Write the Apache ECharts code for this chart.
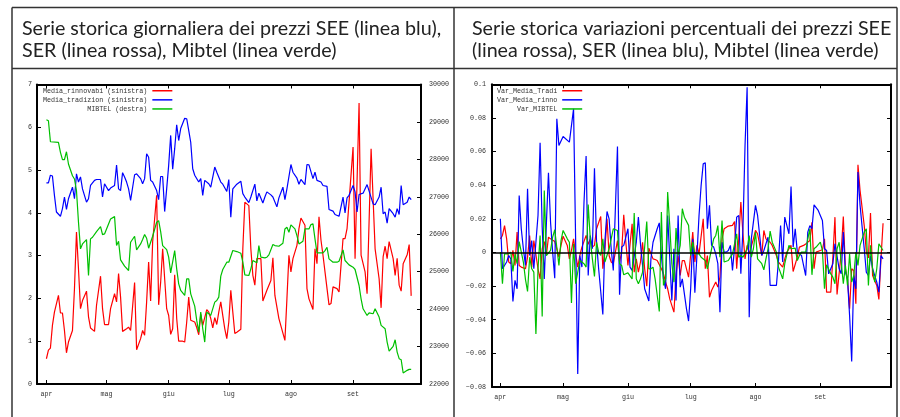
<!DOCTYPE html>
<html><head><meta charset="utf-8">
<script src="https://cdn.jsdelivr.net/npm/echarts@6/dist/echarts.min.js"></script>
<style>html,body{margin:0;padding:0;background:#fff}#c{width:900px;height:417px}</style>
</head><body><div id="c"></div>
<script>
// ---- DATA ----
const monthTicks = [0, 30, 61, 91, 122, 153];           // day offsets from 1 April
const monthLabels = ['apr', 'mag', 'giu', 'lug', 'ago', 'set'];
const leftYTicks = [0, 7, 1];         // min, max, step (sinistra)
const rightYTicks = [22000, 30000, 1000]; // min, max, step (destra)
const varYTicks = [-0.08, 0.1, 0.02];

const titleLeft = 'Serie storica giornaliera dei prezzi SEE (linea blu),\nSER (linea rossa), Mibtel (linea verde)';
const titleRight = 'Serie storica variazioni percentuali dei prezzi SEE\n(linea rossa), SER (linea blu), Mibtel (linea verde)';
const namesLeft = ['Media_rinnovabi (sinistra)', 'Media_tradizion (sinistra)', 'MIBTEL (destra)'];
const namesRight = ['Var_Media_Tradi', 'Var_Media_rinno', 'Var_MIBTEL'];

const mediaRinnovabi = [[0,0.59],[1,0.79],[2,0.84],[3,1.37],[4,1.68],[6,2.07],[7,1.66],[8,1.66],[9,1.25],[10,0.73],[11,0.98],[13,1.25],[14,2.23],[15,3.55],[16,2.69],[17,1.76],[18,1.95],[20,2.17],[21,1.57],[22,1.31],[24,1.23],[25,1.84],[27,2.52],[28,1.76],[29,1.39],[31,1.39],[32,1.76],[34,2.11],[35,1.92],[36,2.58],[37,2.03],[38,1.23],[40,1.29],[41,1.33],[42,1.25],[44,2.37],[45,0.80],[47,1.06],[48,1.25],[49,1.14],[50,1.92],[51,2.85],[52,1.94],[53,3.32],[55,4.41],[56,1.85],[57,2.38],[58,3.16],[60,1.76],[61,1.60],[62,1.16],[63,1.29],[64,2.55],[65,1.53],[66,1.00],[68,1.00],[69,0.98],[70,1.45],[71,2.03],[72,1.49],[74,1.45],[75,1.32],[76,1.15],[77,1.63],[78,1.37],[80,1.74],[81,1.68],[82,1.53],[83,1.31],[84,1.55],[85,1.39],[86,1.68],[87,1.92],[88,1.60],[89,1.29],[90,1.06],[91,1.45],[92,2.19],[93,1.68],[94,1.18],[95,1.21],[97,1.28],[98,3.16],[99,4.25],[101,4.17],[102,3.16],[103,2.54],[104,2.31],[105,2.93],[107,2.93],[108,1.94],[110,2.19],[112,2.42],[113,2.95],[114,2.07],[116,1.53],[119,1.02],[120,1.99],[121,3.01],[122,2.62],[123,2.93],[125,3.24],[126,3.63],[127,3.88],[129,3.71],[130,2.23],[131,1.99],[133,1.74],[134,3.16],[135,2.81],[136,3.91],[137,3.36],[138,3.01],[139,2.62],[141,1.85],[142,1.88],[143,2.27],[145,2.23],[146,2.15],[148,3.40],[149,3.40],[150,3.63],[151,4.25],[153,5.54],[154,2.93],[156,6.57],[157,3.01],[159,2.62],[160,2.11],[162,5.50],[164,3.16],[166,2.46],[167,1.78],[168,2.97],[169,3.22],[170,2.93],[171,3.33],[173,2.93],[174,2.54],[175,2.94],[176,2.31],[177,2.17],[178,2.81],[180,3.02],[181,3.26],[182,2.06]];

const mediaTradizion = [[0,4.70],[1,4.70],[2,4.88],[3,4.86],[4,4.41],[5,4.02],[7,3.92],[8,4.10],[9,4.37],[10,4.08],[11,4.33],[13,4.60],[14,4.33],[15,4.91],[16,4.72],[17,4.84],[18,4.56],[20,4.25],[21,4.33],[22,4.64],[24,4.76],[25,4.78],[27,4.78],[28,4.37],[29,4.68],[31,4.52],[32,4.58],[34,4.64],[35,5.12],[36,4.56],[37,4.52],[38,4.94],[39,4.84],[40,4.72],[41,4.56],[42,4.29],[44,4.89],[45,4.91],[47,4.80],[48,4.68],[49,4.80],[50,5.38],[51,5.30],[52,4.76],[53,4.72],[55,4.52],[56,4.31],[57,4.85],[58,4.85],[59,4.03],[60,4.56],[61,5.11],[62,5.81],[63,5.02],[64,5.50],[65,6.06],[66,5.69],[67,5.97],[69,6.21],[70,6.20],[71,5.93],[72,5.65],[73,5.03],[74,4.88],[76,4.72],[77,4.80],[78,4.41],[79,4.76],[81,4.68],[82,4.60],[84,5.07],[85,4.95],[87,4.72],[88,4.67],[90,4.50],[91,4.78],[92,3.90],[93,4.56],[95,4.67],[97,4.74],[98,4.45],[99,4.37],[101,4.24],[102,4.37],[104,4.67],[105,4.28],[106,4.46],[108,4.23],[109,4.37],[110,4.49],[112,4.42],[113,4.37],[115,4.14],[116,4.35],[118,4.60],[119,4.31],[120,4.56],[122,5.13],[123,4.95],[125,4.81],[126,4.67],[127,4.78],[129,4.66],[130,5.13],[131,5.12],[133,4.80],[134,4.95],[135,4.76],[137,4.72],[138,4.64],[140,4.62],[141,4.08],[143,4.04],[144,3.96],[146,3.92],[148,4.37],[149,4.00],[150,4.35],[151,4.41],[153,4.64],[154,4.49],[155,4.02],[156,4.43],[158,4.46],[160,4.66],[163,4.21],[164,4.19],[166,4.37],[167,4.60],[168,3.98],[169,4.02],[170,3.76],[171,4.10],[173,3.98],[174,3.90],[175,4.10],[176,3.96],[177,4.64],[178,4.19],[180,4.25],[181,4.37],[182,4.31]];

const mibtel = [[0,29058],[1,29031],[2,28471],[6,28453],[7,28187],[8,27991],[9,27991],[10,28204],[11,27876],[13,27564],[14,27476],[15,27164],[16,26320],[17,25609],[18,25742],[20,25858],[21,24898],[22,25876],[23,25920],[25,26071],[27,26204],[28,25991],[29,26009],[31,26276],[32,26409],[34,26471],[35,25698],[36,25813],[37,25316],[39,25147],[41,25031],[42,25787],[44,25947],[45,25582],[47,25742],[48,25858],[49,25991],[50,25893],[51,25627],[52,25787],[53,25947],[55,26320],[56,26364],[57,26071],[58,25698],[60,25591],[61,25387],[62,24969],[64,25565],[65,25076],[66,24676],[67,24498],[69,24364],[70,24809],[71,24809],[72,24409],[74,24080],[75,23698],[76,23387],[77,23920],[78,23476],[79,23120],[80,23920],[81,23876],[82,23831],[84,24187],[85,24231],[86,24320],[87,24880],[88,25058],[90,25253],[91,25253],[93,25565],[95,25538],[97,25493],[98,25253],[99,24916],[101,24898],[102,25076],[103,25298],[105,25236],[106,25698],[107,25387],[109,25369],[110,25387],[111,25449],[113,25724],[114,25698],[116,25680],[118,25760],[119,26142],[120,26187],[121,26053],[122,26249],[124,26142],[125,25964],[126,25742],[128,25813],[129,26142],[130,26142],[131,26142],[132,26258],[133,26276],[134,25876],[135,25502],[137,25502],[138,25502],[139,25564],[140,25653],[141,25342],[143,25253],[145,25253],[146,25280],[148,25582],[149,25298],[151,25182],[153,25120],[154,25058],[156,24631],[157,24276],[158,24009],[160,23831],[161,23902],[163,23876],[164,24009],[166,23787],[167,23565],[169,23476],[170,23120],[171,22880],[173,23004],[174,23182],[175,22853],[176,22676],[177,22650],[178,22293],[180,22364],[181,22391],[182,22391]];

const varMediaTradi = [[0,0.0081],[1,0.0101],[2,0.0160],[3,0.0081],[4,-0.0057],[5,-0.0067],[6,0.0012],[7,-0.0077],[8,0.0121],[9,-0.0077],[10,-0.0087],[12,-0.0097],[13,-0.0028],[14,0.0101],[15,-0.0087],[16,0.0071],[18,-0.0097],[19,-0.0157],[20,0.0022],[21,0.0065],[22,-0.0018],[23,0.0091],[24,0.0081],[26,0.0065],[27,0.0022],[28,-0.0028],[29,0.0042],[30,0.0097],[32,0.0042],[33,-0.0038],[34,0.0012],[35,0.0081],[36,-0.0008],[37,-0.0087],[38,-0.0018],[39,0.0032],[41,0.0101],[42,0.0048],[43,0.0081],[44,0.0032],[45,0.0042],[46,0.0141],[48,0.0214],[49,-0.0097],[50,0.0022],[51,0.0200],[52,-0.0018],[53,-0.0057],[54,-0.0067],[56,0.0071],[57,-0.0057],[58,0.0002],[59,0.0224],[60,0.0061],[61,-0.0077],[63,0.0170],[64,-0.0117],[65,-0.0038],[66,-0.0117],[67,-0.0057],[68,0.0061],[69,-0.0097],[70,-0.0200],[71,0.0026],[73,-0.0038],[74,-0.0042],[75,-0.0048],[77,-0.0097],[78,-0.0127],[79,-0.0176],[80,-0.0216],[81,-0.0276],[83,-0.0355],[84,-0.0137],[85,-0.0018],[86,-0.0137],[87,-0.0048],[88,-0.0048],[90,-0.0147],[92,0.0121],[93,-0.0057],[94,0.0042],[95,-0.0008],[97,0.0200],[98,-0.0097],[99,-0.0018],[100,-0.0266],[101,-0.0226],[103,-0.0176],[104,-0.0206],[105,-0.0147],[106,0.0081],[107,0.0141],[109,0.0157],[111,0.0161],[112,0.0184],[113,-0.0097],[114,0.0081],[115,0.0300],[116,0.0111],[117,-0.0038],[118,0.0042],[119,-0.0008],[121,0.0081],[122,0.0131],[123,0.0111],[125,-0.0018],[126,0.0131],[127,0.0081],[129,0.0061],[130,0.0042],[131,0.0012],[132,-0.0018],[133,-0.0057],[135,-0.0087],[136,-0.0038],[137,0.0002],[139,0.0042],[140,-0.0113],[142,-0.0028],[143,0.0032],[145,0.0042],[146,0.0051],[148,0.0071],[149,0.0180],[150,-0.0097],[151,0.0002],[153,0.0012],[154,0.0016],[155,0.0081],[156,-0.0236],[158,-0.0236],[159,-0.0028],[160,0.0210],[161,-0.0250],[163,0.0002],[164,0.0214],[165,-0.0097],[166,-0.0157],[167,-0.0335],[168,-0.0097],[169,-0.0107],[170,-0.0305],[171,0.0521],[172,0.0369],[174,0.0160],[175,0.0002],[176,-0.0032],[177,0.0234],[178,-0.0137],[180,-0.0196],[181,-0.0279],[182,-0.0038],[183,0.0174]];

const varMediaRinno = [[0,0.0200],[1,-0.0097],[3,-0.0057],[4,-0.0018],[5,-0.0038],[6,-0.0291],[7,-0.0166],[8,-0.0216],[9,0.0339],[10,0.0141],[11,0.0022],[12,-0.0077],[13,0.0379],[14,-0.0018],[15,0.0071],[16,-0.0097],[18,0.0220],[19,0.0652],[20,0.0151],[21,-0.0157],[22,0.0170],[23,0.0474],[24,0.0180],[25,0.0002],[26,-0.0153],[27,0.0795],[28,0.0636],[30,0.0690],[33,0.0656],[35,0.0854],[37,-0.0722],[38,-0.0018],[39,-0.0087],[40,0.0300],[41,0.0573],[42,-0.0137],[43,0.0101],[44,0.0022],[45,0.0501],[46,0.0061],[47,-0.0097],[49,-0.0369],[50,0.0071],[51,0.0244],[52,0.0200],[53,0.0022],[54,-0.0107],[56,0.0630],[57,-0.0252],[58,0.0032],[59,0.0042],[60,0.0091],[61,0.0141],[62,-0.0087],[63,-0.0107],[65,0.0061],[66,0.0210],[67,0.0051],[68,-0.0077],[69,-0.0216],[71,-0.0289],[72,-0.0038],[73,0.0061],[75,0.0141],[76,0.0176],[77,-0.0018],[78,-0.0157],[79,-0.0216],[80,0.0220],[82,-0.0285],[83,0.0022],[84,-0.0285],[85,0.0220],[86,-0.0206],[87,-0.0157],[89,-0.0335],[90,-0.0408],[91,-0.0216],[92,0.0081],[93,-0.0240],[94,-0.0018],[95,0.0220],[96,0.0398],[97,0.0527],[98,0.0533],[99,0.0141],[100,0.0280],[101,0.0042],[102,0.0032],[103,-0.0008],[104,-0.0067],[105,-0.0355],[106,0.0061],[107,0.0002],[108,0.0002],[109,0.0012],[110,0.0042],[111,-0.0107],[112,0.0032],[113,0.0210],[114,0.0220],[115,-0.0127],[116,0.0141],[117,0.0636],[118,0.0983],[119,-0.0385],[120,0.0081],[122,0.0280],[123,0.0220],[125,-0.0018],[126,0.0012],[128,0.0091],[129,-0.0196],[132,-0.0196],[133,-0.0048],[134,0.0160],[135,-0.0057],[136,0.0210],[138,0.0111],[139,0.0392],[140,0.0032],[141,0.0141],[142,0.0002],[144,-0.0018],[146,-0.0137],[147,0.0121],[148,0.0160],[149,0.0141],[150,0.0283],[152,0.0250],[154,0.0190],[155,0.0022],[156,0.0012],[157,-0.0127],[159,-0.0067],[160,0.0052],[162,-0.0097],[163,-0.0127],[164,0.0121],[165,-0.0117],[166,-0.0157],[167,-0.0375],[168,-0.0648],[169,-0.0137],[170,-0.0216],[171,0.0478],[172,0.0281],[174,0.0022],[175,-0.0117],[176,-0.0137],[177,-0.0018],[178,-0.0097],[179,-0.0137],[180,-0.0176],[181,-0.0236],[182,-0.0018],[183,-0.0038]];

const varMibtel = [[0,0.0002],[1,-0.0186],[2,-0.0008],[4,-0.0008],[5,0.0002],[6,-0.0113],[7,-0.0008],[8,-0.0067],[9,0.0065],[11,-0.0057],[12,-0.0160],[13,-0.0232],[14,-0.0028],[15,-0.0097],[16,-0.0117],[17,-0.0484],[18,-0.0097],[19,0.0101],[20,-0.0380],[21,0.0369],[22,-0.0018],[24,0.0012],[25,0.0091],[26,0.0135],[28,-0.0077],[29,0.0071],[30,0.0131],[32,0.0081],[33,0.0061],[34,-0.0301],[35,0.0052],[36,-0.0186],[38,-0.0048],[40,-0.0067],[41,-0.0087],[42,0.0285],[43,0.0081],[44,-0.0038],[45,-0.0143],[46,0.0061],[47,0.0002],[48,-0.0018],[49,0.0081],[50,-0.0057],[52,0.0022],[53,0.0081],[54,0.0141],[56,0.0131],[57,-0.0067],[58,-0.0077],[59,-0.0133],[60,-0.0127],[61,-0.0121],[63,-0.0157],[64,0.0234],[65,-0.0157],[66,-0.0186],[67,-0.0157],[68,-0.0117],[70,0.0184],[71,-0.0097],[72,-0.0097],[73,-0.0087],[74,-0.0157],[76,-0.0351],[77,0.0240],[78,-0.0196],[79,-0.0157],[80,0.0359],[81,0.0160],[82,-0.0067],[83,-0.0176],[84,0.0145],[85,-0.0018],[86,0.0042],[87,0.0260],[88,0.0210],[90,0.0161],[91,-0.0018],[92,0.0061],[93,-0.0008],[95,-0.0008],[96,-0.0028],[98,-0.0048],[99,-0.0097],[101,0.0022],[102,0.0081],[103,0.0101],[104,0.0160],[105,-0.0028],[106,0.0190],[107,-0.0057],[109,-0.0048],[110,-0.0028],[111,-0.0008],[113,0.0111],[114,-0.0028],[115,-0.0018],[116,-0.0028],[118,0.0022],[119,0.0101],[120,-0.0028],[121,0.0022],[122,0.0121],[123,-0.0038],[125,-0.0067],[126,-0.0103],[127,-0.0038],[128,0.0022],[129,0.0127],[130,0.0061],[132,0.0002],[133,-0.0087],[135,-0.0157],[136,-0.0067],[138,0.0042],[139,0.0022],[141,0.0026],[142,-0.0048],[143,-0.0018],[144,0.0002],[146,0.0002],[147,0.0081],[148,0.0141],[149,-0.0133],[150,0.0022],[151,0.0032],[153,0.0061],[154,0.0012],[155,-0.0216],[156,-0.0073],[158,-0.0127],[159,-0.0147],[160,-0.0186],[161,0.0022],[162,0.0061],[163,-0.0057],[164,-0.0186],[165,-0.0077],[166,-0.0196],[167,-0.0008],[168,-0.0176],[169,-0.0137],[170,0.0002],[171,-0.0077],[172,0.0042],[174,0.0121],[175,0.0141],[176,-0.0196],[177,0.0042],[178,-0.0097],[179,-0.0176],[180,-0.0097],[181,0.0052],[183,0.0012]];

// ---- CHART ----
const mono = 'Liberation Mono';
const RED = '#ff0000', BLUE = '#0000ff', GREEN = '#00c000';
const tickLabel = { fontFamily: mono, fontSize: 6.7, color: '#333' };
const borderLine = { onZero: false, lineStyle: { color: '#000', width: 2 } };
const tick = (vals) => ({ inside: true, length: 4, lineStyle: { color: '#000', width: 1 }, ...(vals ? { customValues: vals } : {}) });
const monthFmt = (v) => { const i = monthTicks.indexOf(Math.round(v)); return i >= 0 ? monthLabels[i] : ''; };
const varFmt = (v) => { const r = Math.round(v * 100) / 100; if (r === 0) return '0'; return (r < 0 ? '\u2212' : '') + String(Math.abs(r)); };

function xPair(grid, min, max) {
  return [
    { type: 'value', gridIndex: grid, min, max, position: 'bottom', axisLine: borderLine, axisTick: tick(monthTicks),
      axisLabel: { customValues: monthTicks, formatter: monthFmt, margin: 7, ...tickLabel }, splitLine: { show: false } },
    { type: 'value', gridIndex: grid, min, max, position: 'top', axisLine: borderLine, axisTick: tick(monthTicks),
      axisLabel: { show: false }, splitLine: { show: false } }
  ];
}
const lineSeries = (name, data, color, xi, yi) => ({
  name, type: 'line', data, xAxisIndex: xi, yAxisIndex: yi, symbol: 'none', showSymbol: false,
  lineStyle: { color, width: 1.2 }, itemStyle: { color }, animation: false
});
const legendCommon = {
  orient: 'vertical', align: 'right', icon: 'rect', itemWidth: 20, itemHeight: 1.5, itemGap: 1.6, padding: 0,
  textStyle: { fontFamily: mono, fontSize: 6.7, color: '#333', lineHeight: 7.5 }, selectedMode: false
};
const titleStyle = { fontFamily: 'Lato', fontSize: 19.7, fontWeight: 'normal', color: '#222', lineHeight: 22 };
const frame = { stroke: '#333', lineWidth: 1.5 };

const option = {
  animation: false,
  backgroundColor: '#fff',
  title: [
    { text: titleLeft, left: 22, top: 18, padding: 0, textStyle: titleStyle },
    { text: titleRight, left: 472, top: 18, padding: 0, textStyle: titleStyle }
  ],
  graphic: [
    { type: 'line', shape: { x1: 12, y1: 7.5, x2: 897, y2: 7.5 }, style: frame, silent: true },
    { type: 'line', shape: { x1: 12, y1: 68.5, x2: 897, y2: 68.5 }, style: frame, silent: true },
    { type: 'line', shape: { x1: 12, y1: 7.5, x2: 12, y2: 417 }, style: frame, silent: true },
    { type: 'line', shape: { x1: 454, y1: 7.5, x2: 454, y2: 417 }, style: frame, silent: true },
    { type: 'line', shape: { x1: 897, y1: 7.5, x2: 897, y2: 417 }, style: frame, silent: true }
  ],
  legend: [
    { ...legendCommon, data: namesLeft, left: 43, top: 87, formatter: (n) => n.padStart(26, ' ') },
    { ...legendCommon, data: namesRight, left: 497, top: 87, formatter: (n) => n.padStart(15, ' ') }
  ],
  grid: [
    { left: 37, top: 84.5, width: 384, height: 299.5 },
    { left: 492, top: 84.3, width: 399, height: 302.7 }
  ],
  xAxis: [...xPair(0, -4.7, 186.9), ...xPair(1, -4.0, 186.8)],
  yAxis: [
    { type: 'value', gridIndex: 0, min: leftYTicks[0], max: leftYTicks[1], interval: leftYTicks[2], position: 'left',
      axisLine: borderLine, axisTick: tick(), axisLabel: { margin: 5, ...tickLabel }, splitLine: { show: false } },
    { type: 'value', gridIndex: 0, min: rightYTicks[0], max: rightYTicks[1], interval: rightYTicks[2], position: 'right',
      axisLine: borderLine, axisTick: tick(), axisLabel: { margin: 8, formatter: (v) => String(Math.round(v)), ...tickLabel }, splitLine: { show: false } },
    { type: 'value', gridIndex: 1, min: varYTicks[0], max: varYTicks[1], interval: varYTicks[2], position: 'left',
      axisLine: borderLine, axisTick: tick(), axisLabel: { margin: 6, formatter: varFmt, ...tickLabel }, splitLine: { show: false } },
    { type: 'value', gridIndex: 1, min: varYTicks[0], max: varYTicks[1], interval: varYTicks[2], position: 'right',
      axisLine: borderLine, axisTick: tick(), axisLabel: { show: false }, splitLine: { show: false } }
  ],
  series: [
    lineSeries(namesLeft[0], mediaRinnovabi, RED, 0, 0),
    lineSeries(namesLeft[1], mediaTradizion, BLUE, 0, 0),
    lineSeries(namesLeft[2], mibtel, GREEN, 0, 1),
    Object.assign(lineSeries(namesRight[0], varMediaTradi, RED, 2, 2), {
      markLine: { silent: true, symbol: ['none', 'none'], label: { show: false },
        lineStyle: { color: '#000', width: 1.5, type: 'solid' }, data: [{ yAxis: 0 }], animation: false }
    }),
    lineSeries(namesRight[1], varMediaRinno, BLUE, 2, 2),
    lineSeries(namesRight[2], varMibtel, GREEN, 2, 2)
  ]
};
const chart = echarts.init(document.getElementById('c'), null, { renderer: 'canvas' });
chart.setOption(option);
</script>
</body></html>
